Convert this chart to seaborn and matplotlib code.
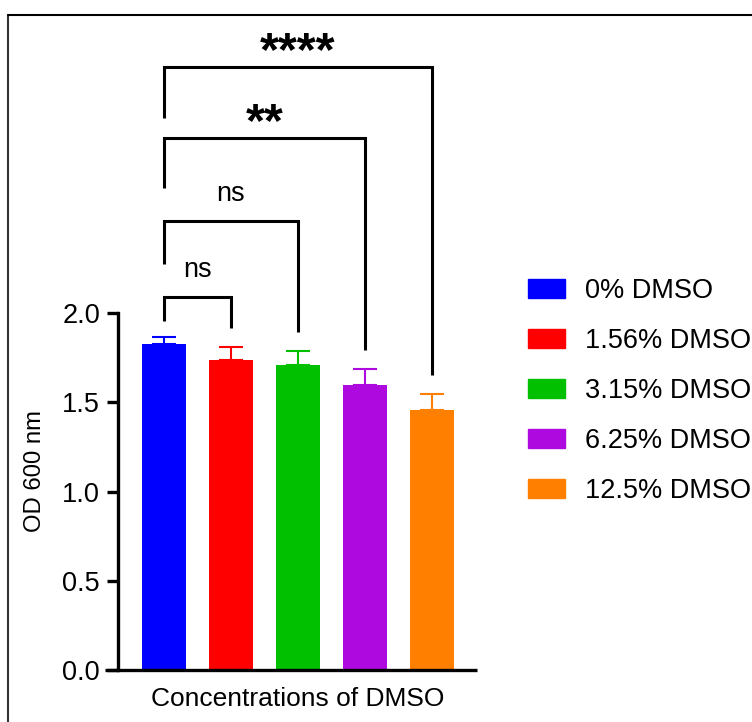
import matplotlib
matplotlib.use("Agg")
import matplotlib.pyplot as plt
import seaborn as sns
import pandas as pd
import numpy as np
from matplotlib.lines import Line2D

# ---- data ----
categories = ["0% DMSO", "1.56% DMSO", "3.15% DMSO", "6.25% DMSO", "12.5% DMSO"]
means = [1.825, 1.737, 1.709, 1.599, 1.457]
sds = [0.042, 0.074, 0.080, 0.086, 0.090]
colors = ["#0000FF", "#FF0000", "#00C000", "#AE0AE0", "#FF8000"]
yticks = [0.0, 0.5, 1.0, 1.5, 2.0]

# comparisons against control
comp_pairs = [(0, 1), (0, 2), (0, 3), (0, 4)]
comp_labels = ["ns", "ns", "**", "****"]
bracket_tops = [2.09, 2.515, 2.98, 3.378]
left_leg_bottoms = [1.955, 2.275, 2.70, 3.092]

sns.set_theme(style="white")
plt.rcParams["font.family"] = ["Liberation Sans", "DejaVu Sans"]
plt.rcParams["text.color"] = "black"
plt.rcParams["axes.labelcolor"] = "black"
plt.rcParams["ytick.color"] = "black"
plt.rcParams["xtick.color"] = "black"

df = pd.DataFrame({"cond": categories, "od": means})

W, H = 752, 722
fig = plt.figure(figsize=(W / 100, H / 100), dpi=100)
ax = fig.add_axes([118 / W, 1 - 670 / H, 359 / W, 357 / H])

sns.barplot(data=df, x="cond", y="od", hue="cond", palette=colors,
            dodge=False, width=0.657, legend=False, ax=ax, saturation=1,
            edgecolor="none")

x = np.arange(len(categories))
for xi, m, s, c in zip(x, means, sds, colors):
    ax.errorbar(xi, m, yerr=[[0], [s]], fmt="none", ecolor=c,
                elinewidth=1.5, capsize=8.5, capthick=1.5, zorder=3)

ax.set_xlim(-0.687, 4.672)
ax.set_ylim(0, 2.0)
ax.set_yticks(yticks)
ax.set_yticklabels([f"{v:.1f}" for v in yticks], fontsize=19.5)
ax.set_xticks([])
ax.set_xlabel("Concentrations of DMSO", fontsize=19, labelpad=12)
ax.set_ylabel("OD 600 nm", fontsize=17.2)
ax.yaxis.set_label_coords(-0.2, 0.557)

for sp in ["top", "right", "bottom"]:
    ax.spines[sp].set_visible(False)
ax.spines["left"].set_linewidth(2.4)
ax.spines["left"].set_color("black")
ax.axhline(0, xmin=-0.035, xmax=1, color="black", lw=2.4, clip_on=False,
           solid_capstyle="butt", zorder=5)
ax.tick_params(axis="y", length=8, width=2.4, color="black", pad=5,
               left=True, labelcolor="black")

# significance brackets
for (i, j), lab, top, lbot in zip(comp_pairs, comp_labels, bracket_tops, left_leg_bottoms):
    rbot = means[j] + sds[j] + 0.105
    ax.plot([i, i, j, j], [lbot, top, top, rbot], color="black", lw=2.2,
            clip_on=False, solid_joinstyle="miter", solid_capstyle="butt")
    if "*" in lab:
        ax.text((i + j) / 2, top - 0.045, lab, ha="center", va="bottom",
                fontsize=35, fontweight="bold", clip_on=False)
    else:
        ax.text((i + j) / 2, top + 0.08, lab, ha="center", va="bottom",
                fontsize=19.5, clip_on=False)

# legend
handles = [plt.Rectangle((0, 0), 1, 1, color=c) for c in colors]
fig.legend(handles, categories, loc="upper left",
           bbox_to_anchor=(509 / W, 1 - 259 / H), frameon=False,
           fontsize=19.5, handlelength=1.37, handleheight=0.74,
           handletextpad=0.75, labelspacing=0.885, borderpad=0.2)

# outer frame
fig.add_artist(Line2D([8 / W, 8 / W], [0, 1 - 15 / H], transform=fig.transFigure,
                      color="#333333", lw=1.5))
fig.add_artist(Line2D([8 / W, 1.0], [1 - 15 / H, 1 - 15 / H], transform=fig.transFigure,
                      color="black", lw=1.5))

fig.savefig("out.png", dpi=100)
